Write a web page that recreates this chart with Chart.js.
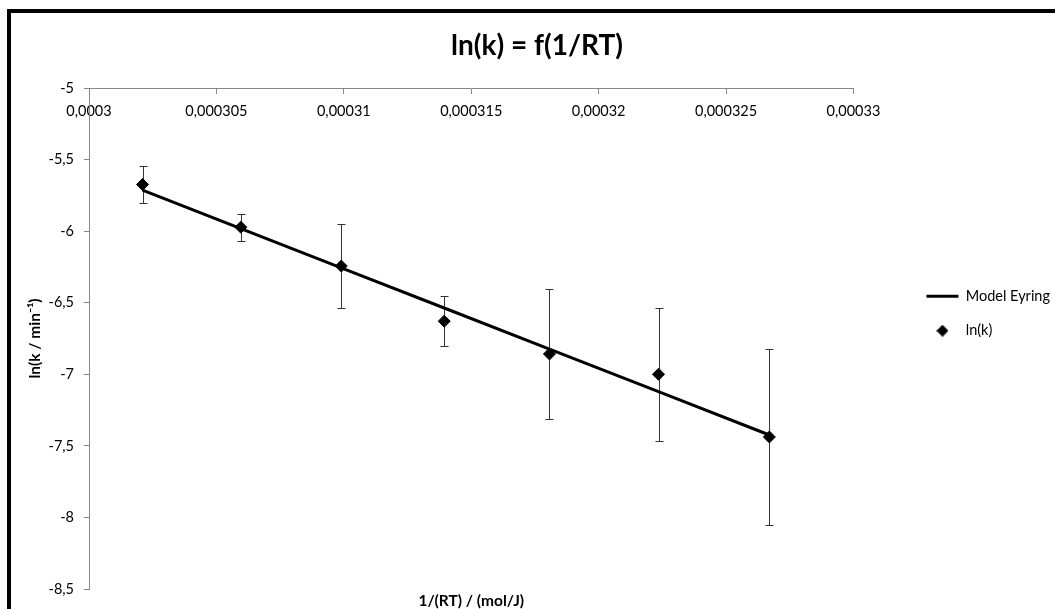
<!DOCTYPE html>
<html>
<head>
<meta charset="utf-8">
<script src="https://cdn.jsdelivr.net/npm/chart.js@4/dist/chart.umd.min.js"></script>
<style>
html,body{margin:0;padding:0;background:#fff;width:1055px;height:609px;overflow:hidden}
#frame{position:absolute;left:7px;top:9px;width:1200px;height:800px;border-left:4px solid #000;border-top:4px solid #000;box-sizing:border-box}
#wrap{position:absolute;left:0;top:0;width:1055px;height:609px}
</style>
</head>
<body>
<div id="frame"></div>
<div id="wrap"><canvas id="c"></canvas></div>
<script>
// ---- data ----
const invRT = [0.0003021, 0.00030596, 0.0003099, 0.00031394, 0.00031807, 0.00032235, 0.0003267];
const lnK = [-5.674, -5.973, -6.244, -6.629, -6.858, -7.0, -7.438];
const lnKErr = [0.129, 0.096, 0.296, 0.176, 0.455, 0.466, 0.613];
const modelEyring = [-5.713, -5.982, -6.256, -6.537, -6.824, -7.121, -7.424];
const xTicks = [0.0003, 0.000305, 0.00031, 0.000315, 0.00032, 0.000325, 0.00033];
const xTickLabels = ['0,0003', '0,000305', '0,00031', '0,000315', '0,00032', '0,000325', '0,00033'];
const yTicks = [-8.5, -8, -7.5, -7, -6.5, -6, -5.5, -5];
const yTickLabels = ['-8,5', '-8', '-7,5', '-7', '-6,5', '-6', '-5,5', '-5'];
const seriesNames = ['ln(k)', 'Model Eyring'];

Chart.defaults.font.family = 'Lato';
Chart.defaults.color = '#000';

const TICK_SIZE = 14.5;
const AXIS_TITLE_SIZE = 15.5;
const LEGEND_SIZE = 14.5;

// legend diamond glyph
const diamond = document.createElement('canvas');
diamond.width = 12; diamond.height = 12;
(function(){
  const g = diamond.getContext('2d');
  g.fillStyle = '#000';
  g.beginPath(); g.moveTo(6,0); g.lineTo(12,6); g.lineTo(6,12); g.lineTo(0,6); g.closePath(); g.fill();
})();

// initial layout estimate
const meas = document.createElement('canvas').getContext('2d');
meas.font = LEGEND_SIZE + 'px Lato';
const textW = meas.measureText('Model Eyring').width;
let padR = Math.round(1055 - 906 - (20 + 32 + LEGEND_SIZE / 2 + textW + 10));
let padL = 19 + padR;
const yTitleCenter = 35;

const errorBars = {
  id: 'errorBars',
  beforeDatasetsDraw(chart) {
    const xs = chart.scales.x, ys = chart.scales.y, ctx = chart.ctx;
    ctx.save();
    ctx.strokeStyle = '#333';
    ctx.lineWidth = 1;
    invRT.forEach((xv, i) => {
      const px = Math.round(xs.getPixelForValue(xv)) + 0.5;
      const top = Math.round(ys.getPixelForValue(lnK[i] + lnKErr[i])) + 0.5;
      const bot = Math.round(ys.getPixelForValue(lnK[i] - lnKErr[i])) + 0.5;
      ctx.beginPath();
      ctx.moveTo(px, top); ctx.lineTo(px, bot);
      ctx.moveTo(px - 4, top); ctx.lineTo(px + 4, top);
      ctx.moveTo(px - 4, bot); ctx.lineTo(px + 4, bot);
      ctx.stroke();
    });
    ctx.restore();
  }
};

const chart = new Chart(document.getElementById('c'), {
  type: 'scatter',
  data: {
    datasets: [
      {
        label: seriesNames[0],
        data: invRT.map((x, i) => ({x: x, y: lnK[i]})),
        pointStyle: 'rectRot',
        pointRadius: 6,
        pointHoverRadius: 6,
        backgroundColor: '#000',
        borderColor: '#000',
        borderWidth: 1,
        showLine: false
      },
      {
        label: seriesNames[1],
        data: invRT.map((x, i) => ({x: x, y: modelEyring[i]})),
        showLine: true,
        pointRadius: 0,
        pointHoverRadius: 0,
        borderColor: '#000',
        backgroundColor: '#000',
        borderWidth: 3,
        tension: 0,
        fill: false
      }
    ]
  },
  options: {
    responsive: true,
    maintainAspectRatio: false,
    animation: false,
    events: [],
    layout: { padding: { left: padL, right: padR, top: 0, bottom: 0 } },
    scales: {
      x: {
        type: 'linear',
        position: { y: -5 },
        min: 0.0003,
        max: 0.00033,
        afterBuildTicks: s => { s.ticks = xTicks.map(v => ({value: v})); },
        ticks: {
          callback: (v, i) => xTickLabels[i],
          padding: 10,
          font: { size: TICK_SIZE },
          color: '#000',
          maxRotation: 0,
          autoSkip: false
        },
        grid: { display: true, drawOnChartArea: false, drawTicks: true, tickLength: 5, color: '#868686' },
        border: { display: true, color: '#868686', width: 1 }
      },
      x2: {
        type: 'linear',
        position: 'bottom',
        min: 0.0003,
        max: 0.00033,
        ticks: { display: false },
        grid: { display: false, drawTicks: false },
        border: { display: false },
        title: {
          display: true,
          text: '1/(RT) / (mol/J)',
          font: { size: AXIS_TITLE_SIZE, weight: 'bold', lineHeight: 1 },
          color: '#000',
          padding: { top: 20 - AXIS_TITLE_SIZE, bottom: 0 }
        }
      },
      y: {
        type: 'linear',
        position: 'left',
        min: -8.5,
        max: -5,
        afterBuildTicks: s => { s.ticks = yTicks.map(v => ({value: v})); },
        afterFit: s => { s.width = 89 - padL; },
        ticks: {
          callback: (v, i) => yTickLabels[i],
          padding: 10,
          font: { size: TICK_SIZE },
          color: '#000'
        },
        grid: { display: true, drawOnChartArea: false, drawTicks: true, tickLength: 5, color: '#868686' },
        border: { display: true, color: '#868686', width: 1 },
        title: {
          display: true,
          text: 'ln(k / min⁻¹)',
          font: { size: AXIS_TITLE_SIZE, weight: 'bold', lineHeight: 1 },
          color: '#000',
          padding: { top: yTitleCenter - AXIS_TITLE_SIZE / 2 - padL, bottom: 0 }
        }
      },
      y2: {
        type: 'linear',
        position: 'right',
        display: true,
        ticks: { display: false },
        grid: { display: false, drawTicks: false },
        border: { display: false },
        afterFit: s => { s.width = 53; }
      }
    },
    plugins: {
      title: {
        display: true,
        text: 'ln(k) = f(1/RT)',
        font: { size: 28, weight: 'bold' },
        color: '#000',
        padding: { top: 29, bottom: 25.4 }
      },
      legend: {
        display: true,
        position: 'right',
        align: 'start',
        fullSize: false,
        title: { display: true, text: ' ', font: { size: 1, lineHeight: 1 }, padding: { top: 0, bottom: 180 } },
        labels: {
          usePointStyle: true,
          pointStyleWidth: 32,
          padding: 20,
          font: { size: LEGEND_SIZE },
          color: '#000',
          generateLabels(ch) {
            const items = Chart.defaults.plugins.legend.labels.generateLabels(ch);
            items.forEach(it => {
              if (it.datasetIndex === 1) {
                it.pointStyle = 'line';
                it.lineWidth = 3;
                it.strokeStyle = '#000';
              } else {
                it.pointStyle = diamond;
              }
            });
            return items.sort((a, b) => b.datasetIndex - a.datasetIndex);
          }
        }
      },
      tooltip: { enabled: false }
    }
  },
  plugins: [errorBars]
});

// one correction pass so the legend sits where the reference has it
const dx = Math.round(chart.legend.left - 906);
if (dx !== 0) {
  padR += dx;
  padL = 19 + padR;
  chart.options.layout.padding = { left: padL, right: padR, top: 0, bottom: 0 };
  chart.options.scales.y.title.padding = { top: yTitleCenter - AXIS_TITLE_SIZE / 2 - padL, bottom: 0 };
  chart.update('none');
}
</script>
</body>
</html>
